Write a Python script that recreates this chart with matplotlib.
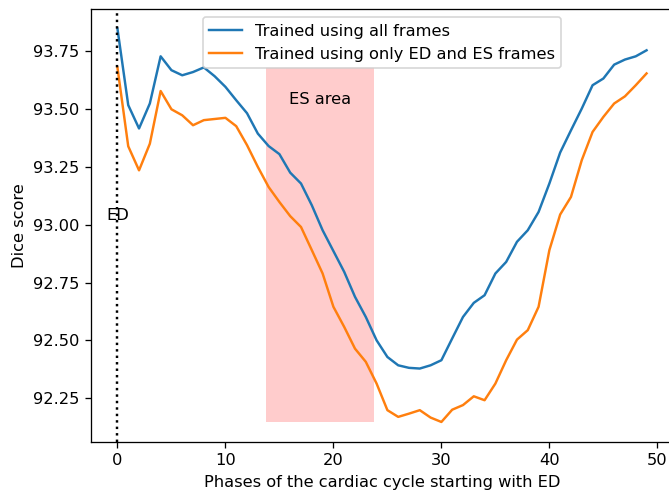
import numpy as np
import matplotlib
matplotlib.use("Agg")
import matplotlib.pyplot as plt

# dice score per phase
phases = np.arange(50)
all_frames = [93.848, 93.517, 93.416, 93.524, 93.728, 93.668, 93.646, 93.660, 93.680, 93.642,
              93.596, 93.538, 93.482, 93.394, 93.340, 93.305, 93.225, 93.178, 93.084, 92.976,
              92.886, 92.796, 92.688, 92.601, 92.500, 92.428, 92.392, 92.381, 92.378, 92.392,
              92.414, 92.508, 92.601, 92.662, 92.695, 92.789, 92.839, 92.926, 92.976, 93.055,
              93.178, 93.312, 93.408, 93.502, 93.603, 93.632, 93.692, 93.714, 93.728, 93.754]
ed_es_frames = [93.680, 93.339, 93.235, 93.350, 93.578, 93.499, 93.473, 93.430, 93.452, 93.457,
                93.462, 93.426, 93.344, 93.250, 93.163, 93.098, 93.037, 92.990, 92.890, 92.789,
                92.645, 92.558, 92.464, 92.407, 92.313, 92.198, 92.169, 92.183, 92.198, 92.166,
                92.147, 92.200, 92.220, 92.258, 92.241, 92.313, 92.414, 92.503, 92.544, 92.645,
                92.890, 93.044, 93.120, 93.279, 93.401, 93.466, 93.524, 93.555, 93.603, 93.654]
es_start, es_end = 13.75, 23.75

# original looks like default styling rendered at a higher dpi
dpi = 117
fig = plt.figure(figsize=(669 / dpi, 494 / dpi), dpi=dpi)
ax = fig.add_axes([0.136, 0.106, 0.870, 0.876])

ax.plot(phases, all_frames, label="Trained using all frames")
ax.plot(phases, ed_es_frames, label="Trained using only ED and ES frames")
ax.fill_between([es_start, es_end], min(ed_es_frames), max(ed_es_frames),
                color="red", alpha=0.2, linewidth=0)
ax.axvline(0, color="black", linestyle=":")
ax.text(0, 93.04, "ED", ha="center", va="center")
ax.text((es_start + es_end) / 2, 93.54, "ES area", ha="center", va="center")

ax.set_xlabel("Phases of the cardiac cycle starting with ED")
ax.set_ylabel("Dice score")
ax.legend(loc="upper center")

fig.savefig("out.png", dpi=dpi)
